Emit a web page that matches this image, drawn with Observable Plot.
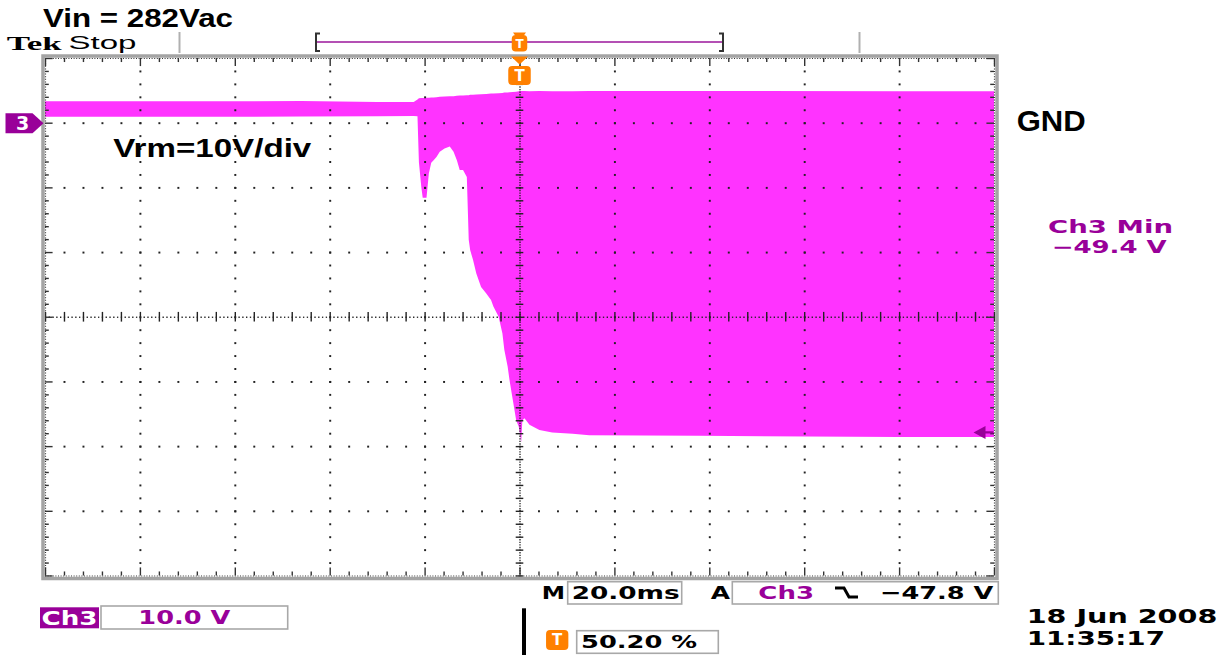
<!DOCTYPE html>
<html>
<head>
<meta charset="utf-8">
<script src="https://cdn.jsdelivr.net/npm/d3@7"></script>
<script src="https://cdn.jsdelivr.net/npm/@observablehq/plot@0.6"></script>
<style>
  html, body { margin: 0; padding: 0; background: #fff; }
  #scope { position: relative; width: 1229px; height: 655px; overflow: hidden; background: #fff; }
  #scope > svg { position: absolute; left: 0; top: 0; }
</style>
</head>
<body>
<div id="scope"></div>
<script>
// Channel 3 acquisition: time in ms relative to the trigger, envelope bounds in volts
const timeMs = [-100, -67, -46, -30, -22.3, -21.5, -21.2, -20.7, -20.4, -19.6, -19.1, -18.6, -18.1, -17.5,
  -16.8, -15.8, -14.7, -13.9, -13.2, -12.6, -11.9, -11.1, -10.7, -10.4, -9.8, -9.1, -8.1, -7.0, -6.0, -5.5,
  -4.4, -3.6, -3.2, -2.5, -2.1, -1.4, -0.7, -0.15, 0.36, 0.6, 1.05, 2.1, 4.2, 6.9, 11.2, 14.7, 37.9, 80, 100];
const upperV = [3.3, 3.3, 3.35, 3.2, 3.2, 3.6, 3.77, 3.8, 3.8, 3.85, 3.85, 3.9, 3.9, 3.95,
  4.0, 4.05, 4.1, 4.1, 4.15, 4.2, 4.2, 4.25, 4.25, 4.3, 4.3, 4.35, 4.4, 4.45, 4.5, 4.5,
  4.55, 4.6, 4.65, 4.65, 4.7, 4.75, 4.8, 4.85, 4.9, 4.9, 4.9, 4.85, 4.9, 4.85, 4.85, 4.9, 4.9, 4.85, 4.85];
const lowerV = [0.93, 0.9, 0.95, 1.0, 1.04, 1.0, -6.1, -9.9, -11.6, -11.6, -7.8, -6.2, -5.8, -5.3,
  -4.5, -4.0, -3.7, -4.5, -5.8, -7.3, -7.3, -8.4, -18.1, -19.7, -21.2, -23.3, -25.4, -26.4, -27.4, -28.4,
  -30.0, -32.6, -35.1, -37.7, -39.8, -42.9, -46.0, -47.0, -49.4, -46.0, -45.7, -46.7, -47.5, -47.9, -48.1, -48.3, -48.4, -48.6, -48.6];

// Scope settings and readouts
const voltsPerDiv = 10;
const msPerDiv = 20;
const groundLevel = 0;
const triggerTime = 0;
const triggerLevel = -47.8;
const ch3Min = -49.4;
const triggerPosition = 50.20;
const headerLabel = "Vin = 282Vac";
const scaleLabel = "Vrm=10V/div";
const dateLabel = "18 Jun  2008";
const timeLabel = "11:35:17";

const purple = "#990099";
const traceColor = "#ff33ff";
const orange = "#ff8000";

const trace = timeMs.map((t, i) => ({t, hi: upperV[i], lo: lowerV[i]}));

// Graticule: 10 x 8 divisions, 5 minor steps per division
const xDomain = [-5 * msPerDiv, 5 * msPerDiv];
const yDomain = [groundLevel - 7 * voltsPerDiv, groundLevel + voltsPerDiv];
const centerT = 0, centerV = (yDomain[0] + yDomain[1]) / 2;
const majorX = d3.range(0, 11).map(i => xDomain[0] + i * msPerDiv);
const majorY = d3.range(0, 9).map(i => yDomain[0] + i * voltsPerDiv);
const minorX = d3.range(0, 51).map(i => xDomain[0] + i * msPerDiv / 5);
const minorY = d3.range(0, 41).map(i => yDomain[0] + i * voltsPerDiv / 5);
const fineX = d3.range(0, 251).map(i => xDomain[0] + i * msPerDiv / 25);
const fineY = d3.range(0, 201).map(i => yDomain[0] + i * voltsPerDiv / 25);

const innerMajorX = majorX.slice(1, -1).filter(v => v !== centerT);
const innerMajorY = majorY.slice(1, -1).filter(v => v !== centerV);
const gridDots = [
  ...innerMajorY.flatMap(v => minorX.slice(1, -1).map(t => ({t, v}))),
  ...innerMajorX.flatMap(t => minorY.slice(1, -1).map(v => ({t, v})))
];
const centerDots = [
  ...fineX.map(t => ({t, v: centerV})),
  ...fineY.map(v => ({t: centerT, v}))
];
const isMajorX = t => majorX.includes(t);
const isMajorY = v => majorY.includes(v);
const tickT = msPerDiv / 25, tickV = voltsPerDiv / 16;

// Marker shapes for ground reference and trigger level
const groundArrow = {draw(ctx) {
  ctx.moveTo(-40, -10); ctx.lineTo(-13, -10); ctx.lineTo(-2, 0); ctx.lineTo(-13, 10); ctx.lineTo(-40, 10); ctx.closePath();
}};
const levelArrow = {draw(ctx) {
  ctx.moveTo(-21, 0); ctx.lineTo(-9, -6.5); ctx.lineTo(-9, 6.5); ctx.closePath();
  ctx.moveTo(-9, -1.2); ctx.lineTo(-1, -1.2); ctx.lineTo(-1, 1.2); ctx.lineTo(-9, 1.2); ctx.closePath();
}};

const chart = Plot.plot({
  width: 1229,
  height: 655,
  marginLeft: 45,
  marginRight: 235,
  marginTop: 58,
  marginBottom: 79.5,
  style: {background: "transparent", fontFamily: "DejaVu Sans"},
  x: {domain: xDomain, axis: null},
  y: {domain: yDomain, axis: null},
  marks: [
    Plot.areaY(trace, {x: "t", y1: "lo", y2: "hi", fill: traceColor, curve: "linear"}),
    // graticule dots
    Plot.dot(gridDots, {x: "t", y: "v", symbol: "square", r: 1.1, fill: "#222"}),
    Plot.dot(centerDots, {x: "t", y: "v", symbol: "square", r: 0.75, fill: "#222"}),
    Plot.ruleY(minorY, {y: d => d, x1: centerT - tickT, x2: centerT + tickT, stroke: "#222", strokeWidth: 1.4}),
    Plot.ruleX(minorX, {x: d => d, y1: centerV - tickV * 1.2, y2: centerV + tickV * 1.2, stroke: "#222", strokeWidth: 1.4}),
    // edge ticks
    Plot.ruleX(minorX, {x: d => d, y1: yDomain[1], y2: d => yDomain[1] - (isMajorX(d) ? 2 : 1) * tickV, stroke: "#333", strokeWidth: 1.4}),
    Plot.ruleX(minorX, {x: d => d, y1: yDomain[0], y2: d => yDomain[0] + (isMajorX(d) ? 2 : 1) * tickV, stroke: "#333", strokeWidth: 1.4}),
    Plot.ruleY(minorY, {y: d => d, x1: xDomain[0], x2: d => xDomain[0] + (isMajorY(d) ? 2 : 1) * tickT, stroke: "#333", strokeWidth: 1.4}),
    Plot.ruleY(minorY, {y: d => d, x1: xDomain[1], x2: d => xDomain[1] - (isMajorY(d) ? 2 : 1) * tickT, stroke: "#333", strokeWidth: 1.4}),
    Plot.ruleX(xDomain, {x: d => d, stroke: "#333", strokeDasharray: "1 1.6", strokeWidth: 1.2}),
    Plot.ruleY(yDomain, {y: d => d, stroke: "#333", strokeDasharray: "1 1.6", strokeWidth: 1.2}),
    Plot.frame({stroke: "#a4a4a4", strokeWidth: 3.5, inset: -2.5}),
    // ground reference marker for channel 3
    Plot.dot([groundLevel], {x: () => xDomain[0], y: d => d, symbol: groundArrow, fill: purple}),
    Plot.text([groundLevel], {x: () => xDomain[0], y: d => d, text: () => "3", dx: -23, dy: 1, fill: "#fff", fontWeight: "bold", fontSize: 19, fontFamily: "DejaVu Sans"}),
    // trigger level marker
    Plot.dot([triggerLevel], {x: () => xDomain[1], y: d => d, symbol: levelArrow, fill: purple})
  ]
});

const scope = document.getElementById("scope");
scope.appendChild(chart);

// Readouts and header drawn around the graticule
const svg = d3.select(scope).append("svg")
  .attr("width", 1229).attr("height", 655)
  .style("pointer-events", "none");

function label(text, x, y, opts = {}) {
  const t = svg.append("text")
    .attr("x", x).attr("y", y)
    .attr("font-family", opts.family || "DejaVu Sans")
    .attr("font-size", opts.size || 19)
    .attr("font-weight", opts.weight || "bold")
    .attr("fill", opts.fill || "#000")
    .text(text);
  if (opts.width) t.attr("textLength", opts.width).attr("lengthAdjust", "spacingAndGlyphs");
  return t;
}
function box(x0, y0, x1, y1, opts = {}) {
  svg.append("rect").attr("x", x0).attr("y", y0).attr("width", x1 - x0).attr("height", y1 - y0)
    .attr("rx", opts.rx || 0)
    .attr("fill", opts.fill || "none").attr("stroke", opts.stroke || "none").attr("stroke-width", opts.sw || 1.6);
}
function triggerBadge(cx, y0, w, h, size) {
  box(cx - w / 2, y0, cx + w / 2, y0 + h, {fill: orange, rx: 4});
  svg.append("text").attr("x", cx).attr("y", y0 + h / 2 + size * 0.36).attr("text-anchor", "middle")
    .attr("font-family", "DejaVu Sans").attr("font-weight", "bold").attr("font-size", size)
    .attr("fill", "#fff").text("T");
}

label(headerLabel, 43, 26.8, {family: "Liberation Sans", size: 26.5, width: 190});
label("Tek", 6.7, 49.5, {family: "Liberation Serif", size: 19.5, width: 55});
label("Stop", 68.5, 48.5, {family: "Liberation Sans", size: 19, weight: "normal", width: 68});

// record bar
svg.append("line").attr("x1", 179.5).attr("x2", 179.5).attr("y1", 32).attr("y2", 53).attr("stroke", "#b0b0b0").attr("stroke-width", 2);
svg.append("line").attr("x1", 859.5).attr("x2", 859.5).attr("y1", 32).attr("y2", 53).attr("stroke", "#b0b0b0").attr("stroke-width", 2);
svg.append("line").attr("x1", 316).attr("x2", 723).attr("y1", 42).attr("y2", 42).attr("stroke", "#b450b4").attr("stroke-width", 2);
svg.append("path").attr("d", "M320,33.5 H316 V51 H320").attr("fill", "none").attr("stroke", "#333").attr("stroke-width", 2);
svg.append("path").attr("d", "M719,33.5 H723 V51 H719").attr("fill", "none").attr("stroke", "#333").attr("stroke-width", 2);

const xT = chart.scale("x").apply(triggerTime);
svg.append("path").attr("d", `M${xT - 6.5},32.5 H${xT + 6.5} L${xT + 4},36 H${xT - 4} Z`).attr("fill", orange);
triggerBadge(xT, 35, 15.5, 16.5, 12);
svg.append("path").attr("d", `M${xT - 8.5},56.5 H${xT + 8.5} L${xT},64.5 Z`).attr("fill", orange);
triggerBadge(xT, 66, 22.5, 19, 15);

label(scaleLabel, 113.3, 156.7, {family: "Liberation Sans", size: 25.5, width: 198});
label("GND", 1016.7, 130.7, {family: "Liberation Sans", size: 30, width: 69});
label("Ch3 Min", 1048, 232.5, {size: 17.2, fill: purple, width: 125});
label("\u2212" + Math.abs(ch3Min).toFixed(1) + " V", 1051.7, 253.3, {size: 17.2, fill: purple, width: 115});

// bottom readouts
box(40, 607.3, 99, 628.3, {fill: purple});
label("Ch3", 41.5, 625, {size: 19, fill: "#fff", width: 56});
box(101, 606, 287.7, 629, {stroke: "#a8a8a8"});
label(voltsPerDiv.toFixed(1) + " V", 138.3, 624, {size: 19, fill: purple, width: 92});

label("M", 541.7, 599.3, {size: 18, width: 23.3});
box(567.7, 581.7, 681.7, 604, {stroke: "#a8a8a8"});
label(msPerDiv.toFixed(1) + "ms", 571.7, 599.3, {size: 18, width: 108});
label("A", 710.7, 599.3, {size: 18, width: 19.3});
box(732.3, 581.7, 998.3, 604, {stroke: "#a8a8a8"});
label("Ch3", 758.3, 599.3, {size: 18, fill: purple, width: 55.7});
svg.append("path").attr("d", "M835,588 H844 L849,597 H858").attr("fill", "none").attr("stroke", "#000").attr("stroke-width", 3);
label("\u2212" + Math.abs(triggerLevel).toFixed(1) + " V", 880, 599.3, {size: 18, width: 113.3});

svg.append("rect").attr("x", 522).attr("y", 608.3).attr("width", 4).attr("height", 47).attr("fill", "#000");
triggerBadge(557.2, 630, 22.3, 20, 15);
box(576.7, 630.7, 718.3, 653.3, {stroke: "#a8a8a8"});
label(triggerPosition.toFixed(2) + " %", 581, 648.3, {size: 18, width: 116});

label(dateLabel, 1026.7, 623.3, {size: 20, width: 190.6});
label(timeLabel, 1026.7, 645, {size: 20, width: 138.3});
</script>
</body>
</html>
